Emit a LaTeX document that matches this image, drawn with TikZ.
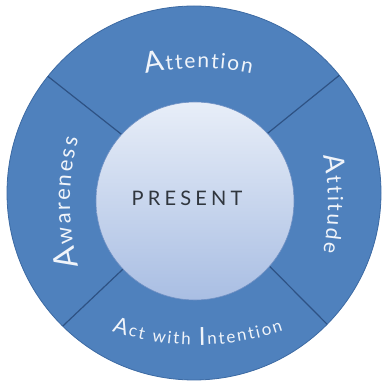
\documentclass[tikz,border=0pt]{standalone}
\usepackage{fontspec}
\setmainfont{Lato}
\usepackage{graphicx}
\usetikzlibrary{decorations.text,calc}
\definecolor{ringblue}{HTML}{4F81BD}
\definecolor{ringedge}{HTML}{3C6AA3}
\definecolor{divline}{HTML}{2E5284}
\definecolor{innertop}{HTML}{E8EEF8}
\definecolor{innerbot}{HTML}{A9BEE3}
\definecolor{innerrim}{HTML}{6F90C4}
\definecolor{ringtext}{HTML}{F0F4FA}
\definecolor{centertext}{HTML}{30363E}
\newcommand{\fsz}[1]{\fontsize{#1}{#1}\selectfont}
\tikzset{
  divider/.style={draw=divline, line width=1.2pt},
  ringlabel/.style={decorate, decoration={text along path, text={#1}, text align={fit to path}, text color=ringtext}},
  centerlabel/.style={text=centertext, font=\fsz{20}, inner sep=0pt},
}
\begin{document}
\begin{tikzpicture}[x=1pt,y=1pt]
\useasboundingbox (0,0) rectangle (381,383);
\coordinate (O) at (194,190);
\coordinate (I) at (195,182);
% outer ring
\fill[ringblue, draw=ringedge, line width=0.8pt] (O) circle[radius=187pt];
% dividers
\coordinate (ul1) at ($(I)+(137.8:99pt)$);
\coordinate (ul2) at ($(O)+(141.4:187pt)$);
\coordinate (ur1) at ($(I)+(43:99pt)$);
\coordinate (ur2) at ($(O)+(39:187pt)$);
\coordinate (ll1) at ($(I)+(223.4:99pt)$);
\coordinate (ll2) at ($(O)+(225.4:187pt)$);
\coordinate (lr1) at ($(I)+(318.8:99pt)$);
\coordinate (lr2) at ($(O)+(315.4:187pt)$);
\draw[divider] (ul1) -- (ul2);
\draw[divider] (ur1) -- (ur2);
\draw[divider] (ll1) -- (ll2);
\draw[divider] (lr1) -- (lr2);
% inner circle
\shade[top color=innertop, bottom color=innerbot, draw=innerrim, line width=0.6pt] (I) circle[radius=99pt];
\node[centerlabel] (present) at (187,184.5) {P\kern4.2pt R\kern4.2pt E\kern4.2pt S\kern4.2pt E\kern4.2pt N\kern4.2pt T};
% ring labels
\coordinate (cAtt) at (198.5,65);
\path[ringlabel={|\fsz{29}|A|\fsz{21}|ttention}] ($(cAtt)+(102.25:250pt)$) arc[start angle=102.25, end angle=77.75, radius=250pt];
\coordinate (cAti) at (78,179);
\path[ringlabel={|\fsz{28}|A|\fsz{21}|ttitude}] ($(cAti)+(11.2:250pt)$) arc[start angle=11.2, end angle=-11.2, radius=250pt];
\coordinate (cAwa) at (320,180.5);
\path[ringlabel={|\fsz{32}|A|\fsz{22}|wareness}] ($(cAwa)+(194.8:250pt)$) arc[start angle=194.8, end angle=165.2, radius=250pt];
\coordinate (cAct) at (197.5,308);
\path[ringlabel={|\fsz{22}|A|\fsz{17}|ct with |\fsz{25}|I|\fsz{17}|ntention}] ($(cAct)+(251.5:270pt)$) arc[start angle=251.5, end angle=288.5, radius=270pt];
\end{tikzpicture}
\end{document}
